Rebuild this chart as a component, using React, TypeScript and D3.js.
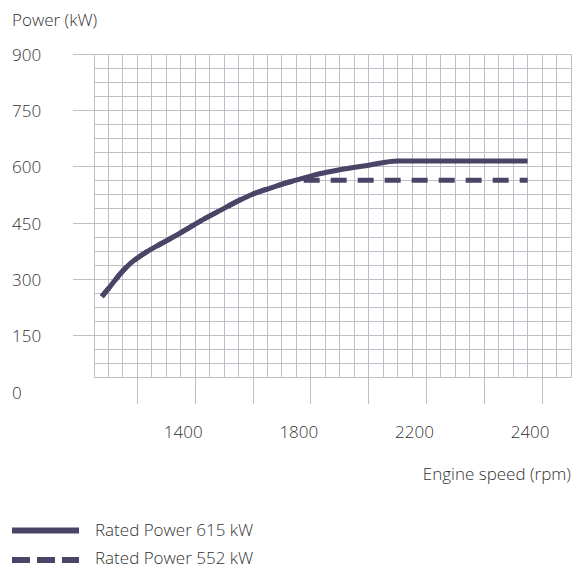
import React, { useEffect, useRef } from "react";
import * as d3 from "d3";

// ---- data ----
const speed615 = [1077, 1105, 1140, 1175, 1210, 1245, 1280, 1350, 1420, 1490, 1560, 1590, 1660, 1730, 1800, 1830, 1900, 2000, 2100, 2550];
const power615 = [254, 280, 314, 342, 362, 379, 394, 424, 456, 485, 513, 524, 543, 560, 575, 581, 592, 604, 615, 615];
const speed552 = [1077, 1105, 1140, 1175, 1210, 1245, 1280, 1350, 1420, 1490, 1560, 1590, 1660, 1730, 1770, 2550];
const power552 = [254, 280, 314, 342, 362, 379, 394, 424, 456, 485, 513, 524, 543, 560, 564, 564];

const yTickValues = [0, 150, 300, 450, 600, 750, 900];
const xMajorTicks = [1200, 1400, 1600, 1800, 2000, 2200, 2400, 2600];
const xLabelValues = [1400, 1800, 2200, 2600];
const xLabelTexts = ["1400", "1800", "2200", "2400"];
const legendLabels = ["Rated Power 615 kW", "Rated Power 552 kW"];

const W = 585;
const H = 569;
const COLOR = "#4a4466";
const GRID = "#bcc0c7";
const TEXT = "#333333";
const FONT = "'Open Sans', sans-serif";
const FS = 17;

export default function App() {
  const dashRef = useRef<SVGPathElement | null>(null);

  const x = d3.scaleLinear().domain([1050, 2700]).range([94, 571]);
  const y = d3.scaleLinear().domain([0, 900]).range([392, 54]);

  const gridXVals = d3.range(1050, 2700 + 1, 50);
  const gridYVals = d3.range(37.5, 900 + 0.1, 37.5);

  const line = d3
    .line<[number, number]>()
    .x((d) => x(d[0]))
    .y((d) => y(d[1]))
    .curve(d3.curveMonotoneX);

  const solidPts: [number, number][] = speed615.map((s, i) => [s, power615[i]]);
  const dashPts: [number, number][] = speed552.map((s, i) => [s, power552[i]]);

  useEffect(() => {
    const p = dashRef.current;
    if (p) {
      const L = p.getTotalLength();
      const period = 27;
      const off = (((8 - L) % period) + period) % period;
      p.setAttribute("stroke-dashoffset", String(off));
    }
  }, []);

  const yBottom = y(37.5);

  return (
    <svg
      width={W}
      height={H}
      style={{ position: "absolute", left: 0, top: 0, background: "#fff" }}
      fontFamily={FONT}
      fontWeight={300}
    >
      {/* grid */}
      <g shapeRendering="crispEdges">
        {gridYVals.map((v) => {
          const major = yTickValues.includes(v);
          return (
            <line
              key={"h" + v}
              x1={major ? 73 : x(1050)}
              x2={x(2700)}
              y1={y(v)}
              y2={y(v)}
              stroke={GRID}
              strokeWidth={1}
            />
          );
        })}
        {gridXVals.map((v) => {
          const major = xMajorTicks.includes(v);
          return (
            <line
              key={"v" + v}
              x1={x(v)}
              x2={x(v)}
              y1={y(900)}
              y2={major ? 404 : yBottom}
              stroke={GRID}
              strokeWidth={1}
            />
          );
        })}
      </g>

      {/* y labels */}
      <text x={12} y={19} dominantBaseline="central" fontSize={FS} fill={TEXT}>
        Power (kW)
      </text>
      {yTickValues.map((v) => (
        <text key={"yl" + v} x={12} y={y(v)} dominantBaseline="central" fontSize={FS} fill={TEXT}>
          {v}
        </text>
      ))}

      {/* x labels */}
      {xLabelValues.map((v, i) => (
        <text
          key={"xl" + v}
          x={x(v) - 12}
          y={431}
          textAnchor="middle"
          dominantBaseline="central"
          fontSize={FS}
          fill={TEXT}
        >
          {xLabelTexts[i]}
        </text>
      ))}
      <text x={571} y={473} textAnchor="end" dominantBaseline="central" fontSize={FS} fill={TEXT}>
        Engine speed (rpm)
      </text>

      {/* series */}
      <path
        d={line(solidPts) || ""}
        fill="none"
        stroke={COLOR}
        strokeWidth={5}
        strokeLinejoin="round"
      />
      <path
        ref={dashRef}
        d={line(dashPts) || ""}
        fill="none"
        stroke={COLOR}
        strokeWidth={5}
        strokeDasharray="16 11"
        strokeLinejoin="round"
      />

      {/* legend */}
      <line x1={12} x2={79} y1={530.5} y2={530.5} stroke={COLOR} strokeWidth={6} />
      <line x1={12} x2={79} y1={560} y2={560} stroke={COLOR} strokeWidth={6} strokeDasharray="18 7" />
      {legendLabels.map((t, i) => (
        <text
          key={t}
          x={95}
          y={529 + i * 28.5}
          dominantBaseline="central"
          fontSize={FS}
          fill={TEXT}
        >
          {t}
        </text>
      ))}
    </svg>
  );
}
